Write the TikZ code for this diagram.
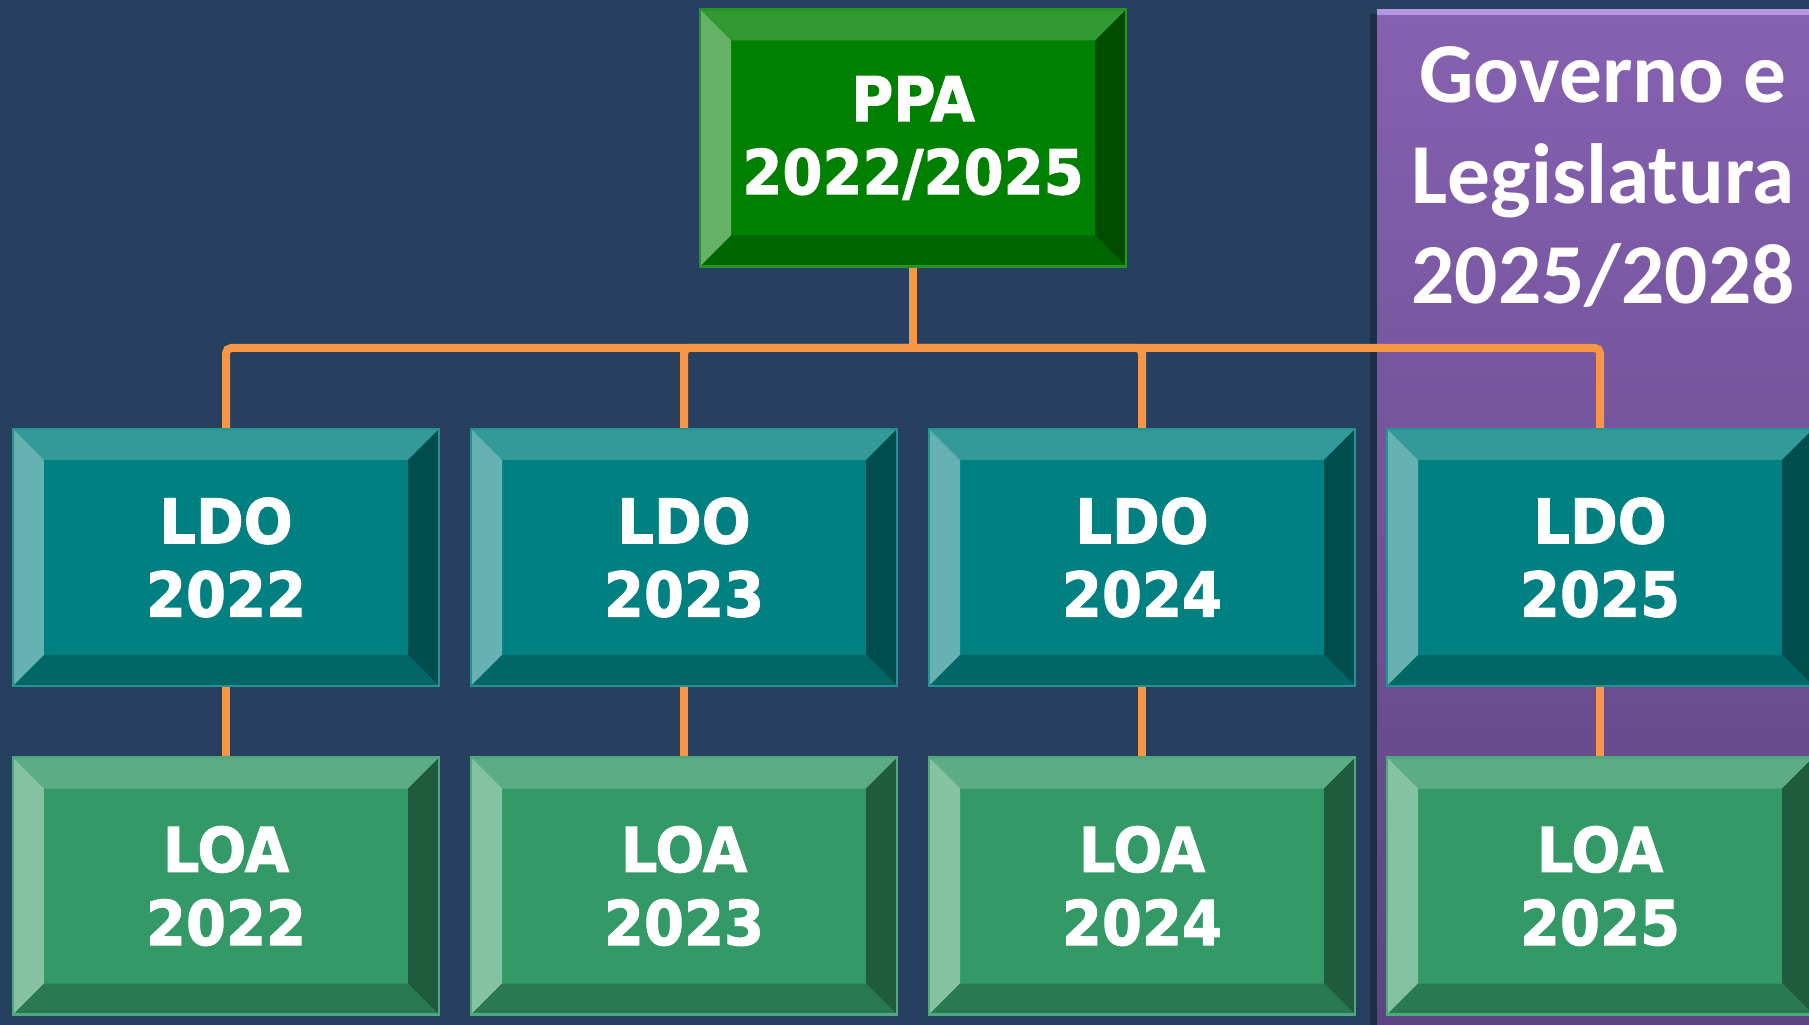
\documentclass[tikz,border=0pt]{standalone}
\usepackage{fontspec}
\newfontfamily\boxfont[FakeStretch=0.93,FakeBold=1.6]{DejaVu Sans}
\newfontfamily\govfont{Carlito}

\definecolor{navy}{HTML}{27405F}
\definecolor{orangeline}{HTML}{F79646}
% PPA colours
\definecolor{ppaface}{HTML}{008000}
\definecolor{ppatop}{HTML}{339933}
\definecolor{ppaleft}{HTML}{66B266}
\definecolor{pparight}{HTML}{004D00}
\definecolor{ppabottom}{HTML}{006600}
% LDO colours
\definecolor{ldoface}{HTML}{008080}
\definecolor{ldotop}{HTML}{339999}
\definecolor{ldoleft}{HTML}{66B2B2}
\definecolor{ldoright}{HTML}{004D4D}
\definecolor{ldobottom}{HTML}{006666}
% LOA colours
\definecolor{loaface}{HTML}{339966}
\definecolor{loatop}{HTML}{5CAD85}
\definecolor{loaleft}{HTML}{85C2A3}
\definecolor{loaright}{HTML}{1F5C3D}
\definecolor{loabottom}{HTML}{297A52}
% purple panel
\definecolor{govtop}{HTML}{8661B1}
\definecolor{govmid}{HTML}{7857A0}
\definecolor{govbottom}{HTML}{5E4480}
\definecolor{govedge}{HTML}{B596E0}

\tikzset{
  bevelbox/.style n args={5}{
    rectangle, minimum width=4.26cm, minimum height=2.57cm, inner sep=0pt,
    fill=#1, draw=#1!85!white, line width=0.6pt,
    text=white, align=center,
    font=\boxfont\bfseries\fontsize{17.6}{20.8}\selectfont,
    path picture={
      \path (path picture bounding box.north west) coordinate (nw)
            (path picture bounding box.north east) coordinate (ne)
            (path picture bounding box.south west) coordinate (sw)
            (path picture bounding box.south east) coordinate (se);
      \fill[#2] (nw) -- (ne) -- ([shift={(-0.31,-0.31)}]ne) -- ([shift={(0.31,-0.31)}]nw) -- cycle;
      \fill[#3] (nw) -- ([shift={(0.31,-0.31)}]nw) -- ([shift={(0.31,0.31)}]sw) -- (sw) -- cycle;
      \fill[#4] (ne) -- (se) -- ([shift={(-0.31,0.31)}]se) -- ([shift={(-0.31,-0.31)}]ne) -- cycle;
      \fill[#5] (sw) -- ([shift={(0.31,0.31)}]sw) -- ([shift={(-0.31,0.31)}]se) -- (se) -- cycle;
    }
  },
  ppabox/.style={bevelbox={ppaface}{ppatop}{ppaleft}{pparight}{ppabottom}},
  ldobox/.style={bevelbox={ldoface}{ldotop}{ldoleft}{ldoright}{ldobottom}},
  loabox/.style={bevelbox={loaface}{loatop}{loaleft}{loaright}{loabottom}},
  link/.style={draw=orangeline, line width=0.08cm, rounded corners=1.5pt},
  govtext/.style={text=white, align=center, font=\govfont\bfseries\fontsize{24.3}{28.7}\selectfont}
}

\begin{document}
\begin{tikzpicture}
    \useasboundingbox (0,0) rectangle (18.09,-10.25);
    \fill[navy] (0,0) rectangle (18.09,-10.25);

    %purple panel
    \fill[black, opacity=0.25] (13.70,-0.14) rectangle (13.77,-10.25);
    \shade[top color=govtop, middle color=govmid, bottom color=govbottom] (13.77,-0.10) rectangle (18.09,-10.25);
    \draw[govedge, line width=1.5pt] (13.77,-0.12) -- (18.09,-0.12);
    \node[govtext] (gov) at (16.03,-1.77) {Governo e\\Legislatura\\2025/2028};

    %PPA
    \node[ppabox] (ppa) at (9.13,-1.38) {PPA\\2022/2025};

    %LDO row
    \node[ldobox] (ldo22) at (2.26,-5.575) {LDO\\2022};
    \node[ldobox] (ldo23) at (6.84,-5.575) {LDO\\2023};
    \node[ldobox] (ldo24) at (11.42,-5.575) {LDO\\2024};
    \node[ldobox] (ldo25) at (16.00,-5.575) {LDO\\2025};

    %LOA row
    \node[loabox] (loa22) at (2.26,-8.86) {LOA\\2022};
    \node[loabox] (loa23) at (6.84,-8.86) {LOA\\2023};
    \node[loabox] (loa24) at (11.42,-8.86) {LOA\\2024};
    \node[loabox] (loa25) at (16.00,-8.86) {LOA\\2025};

    %links
    \coordinate (bus) at (9.13,-3.48);
    \draw[link] (ppa.south) -- (bus);
    \draw[link] (bus) -| (ldo22.north);
    \draw[link] (bus) -| (ldo23.north);
    \draw[link] (bus) -| (ldo24.north);
    \draw[link] (bus) -| (ldo25.north);
    \draw[link] (ldo22.south) -- (loa22.north);
    \draw[link] (ldo23.south) -- (loa23.north);
    \draw[link] (ldo24.south) -- (loa24.north);
    \draw[link] (ldo25.south) -- (loa25.north);
\end{tikzpicture}
\end{document}
